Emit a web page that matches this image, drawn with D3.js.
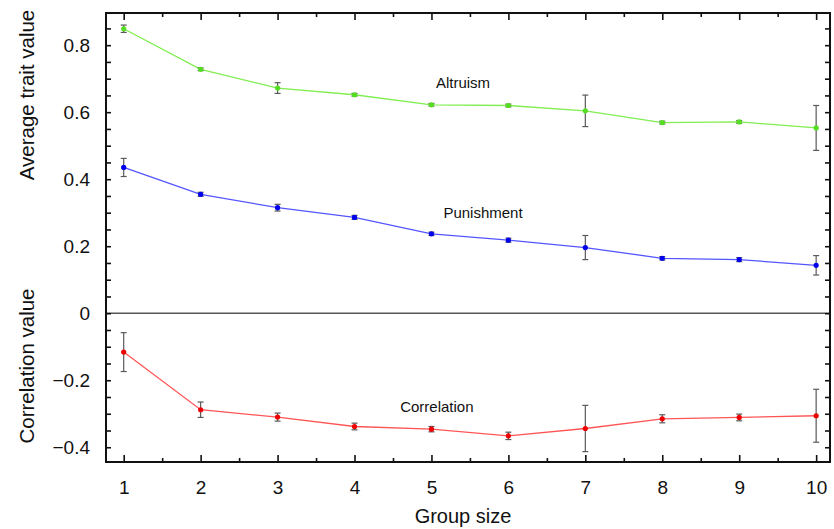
<!DOCTYPE html>
<html>
<head>
<meta charset="utf-8">
<script src="https://cdn.jsdelivr.net/npm/d3@7"></script>
<style>
  html, body { margin: 0; padding: 0; background: #fff; }
  svg { display: block; font-family: "Liberation Sans", Arial, Helvetica, sans-serif; }
</style>
</head>
<body>
<svg id="chart" width="834" height="529"></svg>
<script>
// Group sizes on the x axis
const groupSizes = [1, 2, 3, 4, 5, 6, 7, 8, 9, 10];

// Mean trait values and their error half-widths
const altruism      = [0.849, 0.728, 0.672, 0.652, 0.622, 0.620, 0.604, 0.569, 0.571, 0.553];
const altruismErr   = [0.011, 0.004, 0.016, 0.004, 0.004, 0.004, 0.047, 0.004, 0.004, 0.067];
const punishment    = [0.435, 0.355, 0.315, 0.286, 0.237, 0.218, 0.196, 0.164, 0.160, 0.143];
const punishmentErr = [0.027, 0.006, 0.010, 0.006, 0.005, 0.006, 0.036, 0.005, 0.006, 0.029];
const correlation   = [-0.116, -0.288, -0.310, -0.338, -0.346, -0.366, -0.344, -0.315, -0.311, -0.306];
const correlationErr= [0.058, 0.023, 0.012, 0.010, 0.008, 0.011, 0.069, 0.012, 0.010, 0.079];

// Tick labels
const xTickLabels = ["1", "2", "3", "4", "5", "6", "7", "8", "9", "10"];
const yTickLabels = [0.8, 0.6, 0.4, 0.2, 0, -0.2, -0.4];

const svg = d3.select("#chart");
const plotLeft = 106, plotRight = 830, plotTop = 13, plotBottom = 462;

const x = d3.scaleLinear().domain([0.77, 10.18]).range([plotLeft, plotRight]);
const y = d3.scaleLinear().domain([-0.444, 0.896]).range([plotBottom, plotTop]);

const series = [
  { name: "Altruism",    values: altruism,    err: altruismErr,    line: "#80ee50", mark: "#55dd22", label: [5.41, 0.672] },
  { name: "Punishment",  values: punishment,  err: punishmentErr,  line: "#5555ff", mark: "#0000ee", label: [5.67, 0.285] },
  { name: "Correlation", values: correlation, err: correlationErr, line: "#ff5555", mark: "#ee0000", label: [5.07, -0.294] }
];

// Zero line separating the two panels
svg.append("line")
  .attr("x1", plotLeft).attr("x2", plotRight)
  .attr("y1", y(0)).attr("y2", y(0))
  .attr("stroke", "#555").attr("stroke-width", 1.6);

const fmt = v => v === 0 ? "0" : d3.format(".1f")(v);
const yTicks = d3.range(-0.4, 0.8501, 0.05).map(v => +v.toFixed(2));
const isLabelled = v => yTickLabels.some(t => Math.abs(t - v) < 1e-6);

// Left axis: inward ticks every 0.05, labels every 0.2
svg.append("g").attr("transform", `translate(${plotLeft},0)`)
  .call(d3.axisLeft(y).tickValues(yTicks).tickSize(-5).tickPadding(16)
    .tickFormat(v => isLabelled(v) ? fmt(v) : ""));
svg.append("g").attr("transform", `translate(${plotRight},0)`)
  .call(d3.axisRight(y).tickValues(yTicks).tickSize(-5).tickFormat(""));

// X axes: integer ticks plus half-step minor ticks
const xMinor = d3.range(1.5, 10, 1);
svg.append("g").attr("transform", `translate(0,${plotBottom})`)
  .call(d3.axisBottom(x).tickValues(groupSizes).tickSize(-7).tickPadding(19)
    .tickFormat((d, i) => xTickLabels[i]));
svg.append("g").attr("transform", `translate(0,${plotBottom})`)
  .call(d3.axisBottom(x).tickValues(xMinor).tickSize(-4).tickFormat(""));
svg.append("g").attr("transform", `translate(0,${plotTop})`)
  .call(d3.axisTop(x).tickValues(groupSizes).tickSize(-7).tickFormat(""));
svg.append("g").attr("transform", `translate(0,${plotTop})`)
  .call(d3.axisTop(x).tickValues(xMinor).tickSize(-4).tickFormat(""));

svg.selectAll(".domain").remove();
svg.selectAll(".tick line").attr("stroke", "#111").attr("stroke-width", 1.6);
svg.selectAll(".tick text").attr("font-size", 19).attr("fill", "#111")
  .attr("font-family", "'Liberation Sans', Arial, sans-serif");

// Frame
svg.append("rect")
  .attr("x", plotLeft).attr("y", plotTop)
  .attr("width", plotRight - plotLeft).attr("height", plotBottom - plotTop)
  .attr("fill", "none").attr("stroke", "#111").attr("stroke-width", 2);

// Series: line, error bars, markers, label
series.forEach(s => {
  const pts = groupSizes.map((g, i) => ({ g, v: s.values[i], e: s.err[i] }));
  const g = svg.append("g");

  g.append("path")
    .datum(pts)
    .attr("fill", "none")
    .attr("stroke", s.line)
    .attr("stroke-width", 1.3)
    .attr("d", d3.line().x(d => x(d.g)).y(d => y(d.v)));

  const eb = g.selectAll(".eb").data(pts).join("g").attr("stroke", "#5a5a5a").attr("stroke-width", 1.2);
  eb.append("line")
    .attr("x1", d => x(d.g)).attr("x2", d => x(d.g))
    .attr("y1", d => y(d.v - d.e)).attr("y2", d => y(d.v + d.e));
  eb.append("line")
    .attr("x1", d => x(d.g) - 3).attr("x2", d => x(d.g) + 3)
    .attr("y1", d => y(d.v - d.e)).attr("y2", d => y(d.v - d.e));
  eb.append("line")
    .attr("x1", d => x(d.g) - 3).attr("x2", d => x(d.g) + 3)
    .attr("y1", d => y(d.v + d.e)).attr("y2", d => y(d.v + d.e));

  g.selectAll(".pt").data(pts).join("circle")
    .attr("cx", d => x(d.g)).attr("cy", d => y(d.v))
    .attr("r", 2.6).attr("fill", s.mark);

  svg.append("text")
    .attr("x", x(s.label[0])).attr("y", y(s.label[1]))
    .attr("text-anchor", "middle")
    .attr("font-size", 15).attr("fill", "#111")
    .text(s.name);
});

// Axis titles
svg.append("text")
  .attr("transform", "translate(34,95) rotate(-90)")
  .attr("text-anchor", "middle").attr("font-size", 20.5).attr("fill", "#111")
  .text("Average trait value");
svg.append("text")
  .attr("transform", "translate(34,366) rotate(-90)")
  .attr("text-anchor", "middle").attr("font-size", 20.5).attr("fill", "#111")
  .text("Correlation value");
svg.append("text")
  .attr("x", 463).attr("y", 523)
  .attr("text-anchor", "middle").attr("font-size", 20).attr("fill", "#111")
  .text("Group size");
</script>
</body>
</html>
